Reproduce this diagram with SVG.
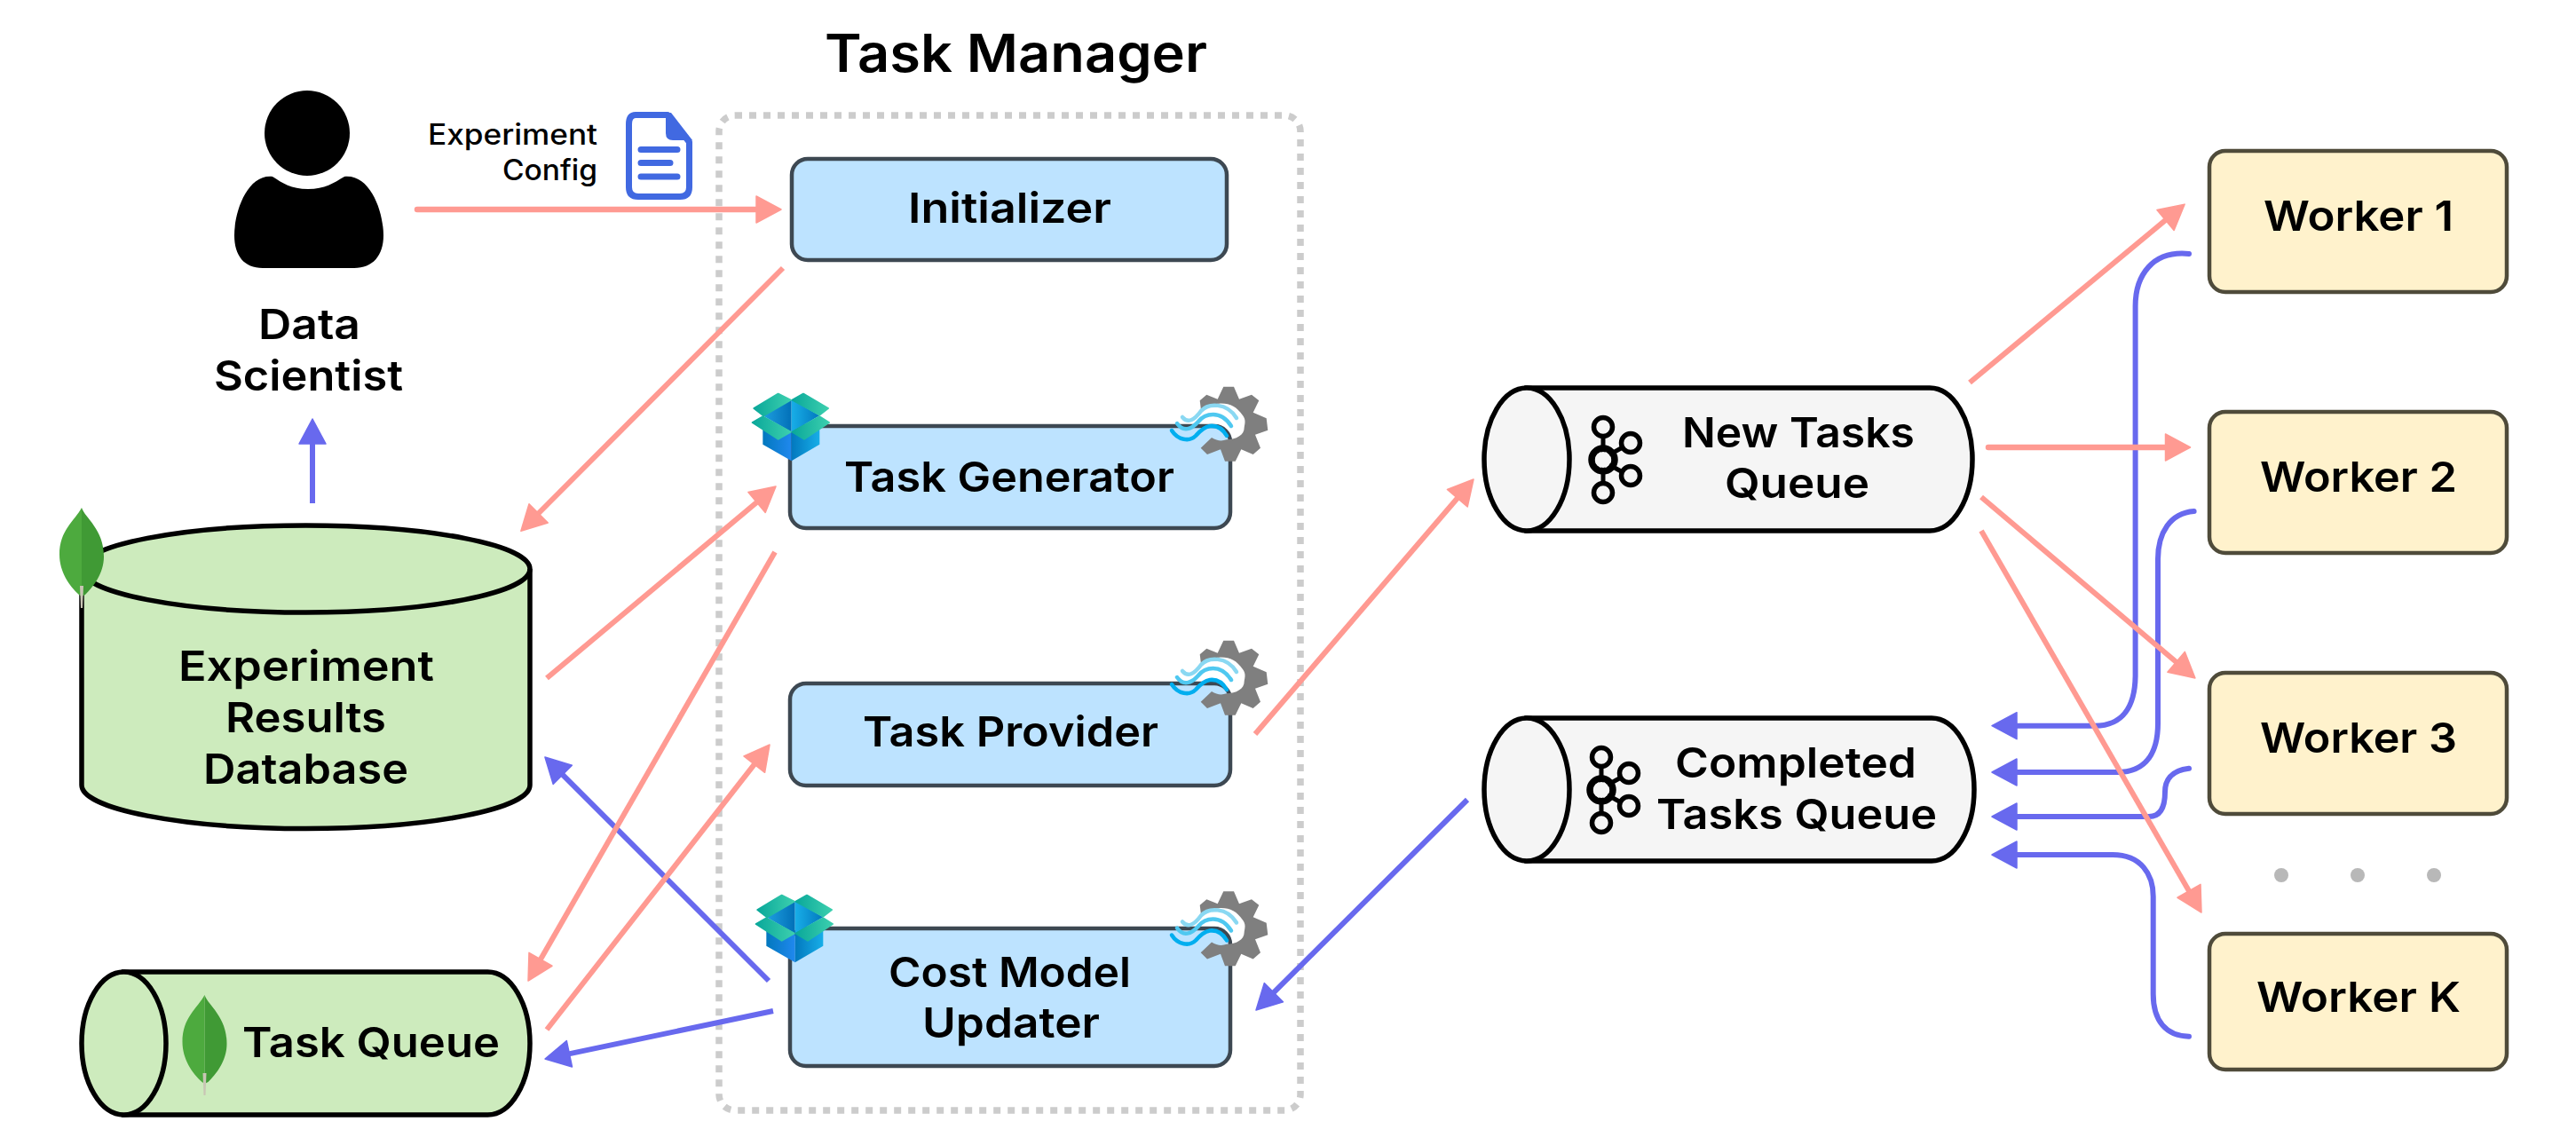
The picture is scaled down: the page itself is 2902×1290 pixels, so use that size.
<svg xmlns="http://www.w3.org/2000/svg" width="2902" height="1290" viewBox="0 0 2902 1290">
<style>
text{font-family:"Inter","Liberation Sans",sans-serif;font-weight:600;fill:#000;font-size:47px}
.title{font-size:59px;font-weight:600}
.small{font-size:32px;font-weight:500}
.task{fill:#BDE3FF;stroke:#3D4852;stroke-width:4.500}
.worker{fill:#FFF2CC;stroke:#4F4B3A;stroke-width:4.500}
.green{fill:#CDEBBD;stroke:#000;stroke-width:5.500}
.kafka{fill:#F5F5F5;stroke:#000;stroke-width:5.500}
.ring{fill:none;stroke:#000}
.r{fill:none;stroke:#FF9A92;stroke-width:6;marker-end:url(#mr)}
.rt{fill:none;stroke:#FF9A92;stroke-width:6.500;stroke-linecap:round;marker-end:url(#mr)}
.b{fill:none;stroke:#6869EE;stroke-width:6;marker-end:url(#mb)}
.bc{fill:none;stroke:#6869EE;stroke-width:6;stroke-linecap:round;marker-end:url(#mb)}
.dot{fill:#B8B8B8}
.wave{fill:none;stroke-width:4.500;stroke-linecap:round}
</style>
<defs>
<marker id="mr" markerUnits="userSpaceOnUse" viewBox="-2 -18 32 36" markerWidth="32" markerHeight="36" refX="8" refY="0" orient="auto"><path d="M0,-15 L28,0 L0,15 Z" fill="#FF9A92" stroke="#FF9A92" stroke-width="1.500" stroke-linejoin="round"/></marker>
<marker id="mb" markerUnits="userSpaceOnUse" viewBox="-2 -18 32 36" markerWidth="32" markerHeight="36" refX="8" refY="0" orient="auto"><path d="M0,-15 L28,0 L0,15 Z" fill="#6869EE" stroke="#6869EE" stroke-width="1.500" stroke-linejoin="round"/></marker>
<linearGradient id="g1" x1="0" x2="1" y1="0" y2="0"><stop offset="0" stop-color="#0AA89A"/><stop offset="1" stop-color="#3CCFAE"/></linearGradient>
<linearGradient id="g2" x1="0" x2="1" y1="0" y2="0"><stop offset="0" stop-color="#1E9FE0"/><stop offset="1" stop-color="#0270B8"/></linearGradient>
<linearGradient id="g3" x1="0" x2="1" y1="0" y2="0"><stop offset="0" stop-color="#0278BE"/><stop offset="1" stop-color="#2088EE"/></linearGradient>
<linearGradient id="g4" x1="0" x2="1" y1="0" y2="0"><stop offset="0" stop-color="#0278BE"/><stop offset="1" stop-color="#18AEE8"/></linearGradient>
<linearGradient id="g5" x1="0" x2="1" y1="0" y2="0"><stop offset="0" stop-color="#18AEE8"/><stop offset="1" stop-color="#0278BE"/></linearGradient>
<g id="box" transform="scale(.3333)">
<polygon points="58,115 155,60 155,170" fill="url(#g2)"/>
<polygon points="155,60 250,115 155,170" fill="url(#g5)"/>
<polygon points="58,135 155,172 155,268 58,212" fill="url(#g3)"/>
<polygon points="155,172 250,135 250,212 155,268" fill="url(#g4)"/>
<g fill="url(#g1)" stroke="url(#g1)" stroke-width="6" stroke-linejoin="round">
<polygon points="28,90 110,41 152,62 60,115"/>
<polygon points="158,62 195,41 279,90 250,112"/>
<polygon points="23,138 58,118 152,170 110,194"/>
<polygon points="158,170 250,118 282,138 198,194"/>
</g>
</g>
<g id="gear">
<path fill="#7F7F7F" d="M-33.3,-26.7 L-25.7,-33.3 L-13.3,-28.3 L-6.7,-42.3 L5,-42.3 L11,-28.3 L25,-33.3 L33.3,-26.7 L26.7,-13.3 L41.7,-6.7 L43.3,6.7 L29,11.7 L35,26.7 L26.7,34 L13.3,28.3 L6.7,41.7 L-5,41.7 L-10,28.3 L-25,34 L-32.3,26.7 L-20,15 C-14,19 -8,19 -3.3,17.3 C8,17 17,12 16.7,3.3 C18,-3 18,-6 15,-10 C8,-20 0,-24 -11.7,-23.3 C-20,-23 -27,-18 -31.7,-13.3 Z"/>
<path class="wave" stroke="#8AD8F2" d="M-53,-8 C-47,-1 -40,-4 -32,-15 C-24,-24 -3,-25 8,-7"/>
<path class="wave" stroke="#4FC8F0" d="M-59,-1 C-52,9 -43,6 -35,-3 C-28,-12 -10,-17 2,2"/>
<path class="wave" stroke="#00AEEF" d="M-65,7 C-58,18 -45,20 -38,13 C-32,6 -28,3 -22,2 C-13,1 -7,6 -3,13"/>
</g>
<g id="leaf">
<path fill="#4DAA3E" d="M0,0 C-8,15 -25,25 -25,53 C-25,72 -14,88 -3,98 L0,100 Z"/>
<path fill="#409A35" d="M0,0 C4,12 25,24 25,55 C25,75 12,90 4,98 L0,100 Z"/>
<path fill="#C9C5B5" d="M-2,88 L2,88 L1,113 L-1,113 Z"/>
</g>
<g id="kafkaicon">
<path d="M0,-25 V25 M4,-4 L31,-19 M4,4 L31,19" fill="none" stroke="#000" stroke-width="5"/>
<circle class="ring" cx="0" cy="0" r="13" stroke-width="7.500" fill="none"/>
<circle cx="0" cy="0" r="9" fill="#F5F5F5"/>
<circle class="ring" cx="0" cy="-37" r="10.500" stroke-width="5.500" style="fill:#F5F5F5"/>
<circle class="ring" cx="0" cy="37" r="10.500" stroke-width="5.500" style="fill:#F5F5F5"/>
<circle class="ring" cx="31" cy="-19" r="10.500" stroke-width="5.500" style="fill:#F5F5F5"/>
<circle class="ring" cx="31" cy="18" r="10.500" stroke-width="5.500" style="fill:#F5F5F5"/>
</g>
</defs>

<g id="task-manager">
<rect x="810" y="130" width="655" height="1121" rx="18" fill="none" stroke="#CCCCCC" stroke-width="7.500" stroke-dasharray="8 8"/>
<text class="title" x="929" y="81" textLength="431" lengthAdjust="spacingAndGlyphs">Task Manager</text>
</g>

<g id="initializer">
<rect class="task" x="892" y="179" width="490" height="114" rx="18"/>
<text x="1023" y="251" textLength="229" lengthAdjust="spacingAndGlyphs">Initializer</text>
</g>
<g id="task-generator">
<rect class="task" x="890" y="480" width="496" height="115" rx="18"/>
<text x="951" y="554" textLength="372" lengthAdjust="spacingAndGlyphs">Task Generator</text>
<use href="#box" x="840" y="430"/>
<use href="#gear" x="1385" y="478"/>
</g>
<g id="task-provider">
<rect class="task" x="890" y="770" width="496" height="115" rx="18"/>
<text x="972" y="841" textLength="333" lengthAdjust="spacingAndGlyphs">Task Provider</text>
<use href="#gear" x="1385" y="764"/>
</g>
<g id="cost-model-updater">
<rect class="task" x="890" y="1046" width="496" height="155" rx="18"/>
<text x="1001" y="1112" textLength="273" lengthAdjust="spacingAndGlyphs">Cost Model</text>
<text x="1039" y="1169" textLength="200" lengthAdjust="spacingAndGlyphs">Updater</text>
<use href="#box" x="844" y="995"/>
<use href="#gear" x="1385" y="1046.500"/>
</g>

<g id="data-scientist">
<circle cx="346" cy="150" r="48"/>
<path d="M307,199 C318,206 328,213 347,213 C366,213 376,206 388,199 C418,196 432,240 432,265 C432,288 420,302 399,302 L296,302 C275,302 264,288 264,265 C264,240 278,196 307,199 Z"/>
<text x="291" y="382" textLength="115" lengthAdjust="spacingAndGlyphs">Data</text>
<text x="241" y="440" textLength="213" lengthAdjust="spacingAndGlyphs">Scientist</text>
</g>

<g id="experiment-config">
<text class="small" x="482" y="163" textLength="191" lengthAdjust="spacingAndGlyphs">Experiment</text>
<text class="small" x="566" y="203" textLength="107" lengthAdjust="spacingAndGlyphs">Config</text>
<path d="M716,129.500 H752 L776.500,160 V211 Q776.500,221.500 766,221.500 H719 Q708.500,221.500 708.500,211 V140 Q708.500,129.500 716,129.500 Z" fill="#fff" stroke="#4169E1" stroke-width="7" stroke-linejoin="round"/>
<path d="M750,127 H756 L780,158 H758 Q750,158 750,150 Z" fill="#4169E1"/>
<path d="M722,168.500 H763 M722,183.500 H755 M722,199 H763" stroke="#4169E1" stroke-width="7" stroke-linecap="round" fill="none"/>
</g>

<g id="experiment-results-database">
<path class="green" d="M92,641 A252.500,49 0 0 1 597,641 L597,884.500 A252.500,49 0 0 1 92,884.500 Z"/>
<path class="green" style="fill:none" d="M92,641 A252.500,49 0 0 0 597,641"/>
<use href="#leaf" x="92" y="572"/>
<text x="201" y="767" textLength="288" lengthAdjust="spacingAndGlyphs">Experiment</text>
<text x="254" y="825" textLength="181" lengthAdjust="spacingAndGlyphs">Results</text>
<text x="229" y="883" textLength="231" lengthAdjust="spacingAndGlyphs">Database</text>
</g>

<g id="task-queue">
<path class="green" d="M139.500,1095 H549.500 A47.500,80.500 0 0 1 549.500,1256 H139.500 Z"/>
<ellipse class="green" cx="139.500" cy="1175.500" rx="47.500" ry="80.500"/>
<use href="#leaf" x="230.500" y="1121"/>
<text x="273" y="1191" textLength="290" lengthAdjust="spacingAndGlyphs">Task Queue</text>
</g>

<g id="new-tasks-queue">
<path class="kafka" d="M1720,437 H2174 A48,80.500 0 0 1 2174,598 H1720 Z"/>
<ellipse class="kafka" cx="1720" cy="517.500" rx="48" ry="80.500"/>
<use href="#kafkaicon" x="1806" y="518"/>
<text x="1895" y="504" textLength="262" lengthAdjust="spacingAndGlyphs">New Tasks</text>
<text x="1943" y="561" textLength="163" lengthAdjust="spacingAndGlyphs">Queue</text>
</g>
<g id="completed-tasks-queue">
<path class="kafka" d="M1720,809 H2176 A48,80.500 0 0 1 2176,970 H1720 Z"/>
<ellipse class="kafka" cx="1720" cy="889.500" rx="48" ry="80.500"/>
<use href="#kafkaicon" x="1804" y="890"/>
<text x="1887" y="876" textLength="272" lengthAdjust="spacingAndGlyphs">Completed</text>
<text x="1866" y="934" textLength="316" lengthAdjust="spacingAndGlyphs">Tasks Queue</text>
</g>

<g id="worker-1"><rect class="worker" x="2489" y="170" width="335" height="159" rx="18"/><text x="2550" y="260" textLength="214" lengthAdjust="spacingAndGlyphs">Worker 1</text></g>
<g id="worker-2"><rect class="worker" x="2489" y="464" width="335" height="159" rx="18"/><text x="2546" y="554" textLength="222" lengthAdjust="spacingAndGlyphs">Worker 2</text></g>
<g id="worker-3"><rect class="worker" x="2489" y="758" width="335" height="159" rx="18"/><text x="2546" y="848" textLength="222" lengthAdjust="spacingAndGlyphs">Worker 3</text></g>
<g id="worker-k"><rect class="worker" x="2489" y="1052" width="335" height="153" rx="18"/><text x="2542" y="1140" textLength="230" lengthAdjust="spacingAndGlyphs">Worker K</text></g>
<g id="ellipsis"><circle class="dot" cx="2570" cy="986" r="8"/><circle class="dot" cx="2656" cy="986" r="8"/><circle class="dot" cx="2742" cy="986" r="8"/></g>

<g id="connectors">
<path class="b" d="M352,567 V492"/>
<path class="b" d="M866,1105 L628.100,867.100"/>
<path class="b" d="M871,1139 L633.600,1188.900"/>
<path class="b" d="M1653,901 L1429.200,1123.900"/>
<path class="bc" d="M2466,286 C2425,282 2405.600,310 2405.600,345 V760 C2405.600,795 2392,817.700 2360,817.700 H2264"/>
<path class="bc" d="M2471.600,576 C2445,578 2431,600 2431,630 V815 C2431,845 2420,870 2385,870 H2264"/>
<path class="bc" d="M2466,865.700 C2445,868 2439,880 2439,892 C2439,908 2435,920 2421,920 H2264"/>
<path class="bc" d="M2466,1167.700 C2440,1167 2425.700,1150 2425.700,1120 V1010 C2425.700,985 2412,963 2380,963 H2264"/>
<path class="rt" d="M470,236 H860"/>
<path class="r" d="M882,302 L601,584"/>
<path class="r" d="M616,764 L858.700,560.800"/>
<path class="r" d="M873,622 L605,1087.700"/>
<path class="r" d="M616,1160 L854.700,854.800"/>
<path class="r" d="M1414,827 L1647,555.200"/>
<path class="r" d="M2219,431 L2445.700,242.900"/>
<path class="rt" d="M2240,504 H2447.500"/>
<path class="r" d="M2232,560 L2457.700,751"/>
<path class="r" d="M2232,598 L2470,1010.700"/>
</g>
</svg>
